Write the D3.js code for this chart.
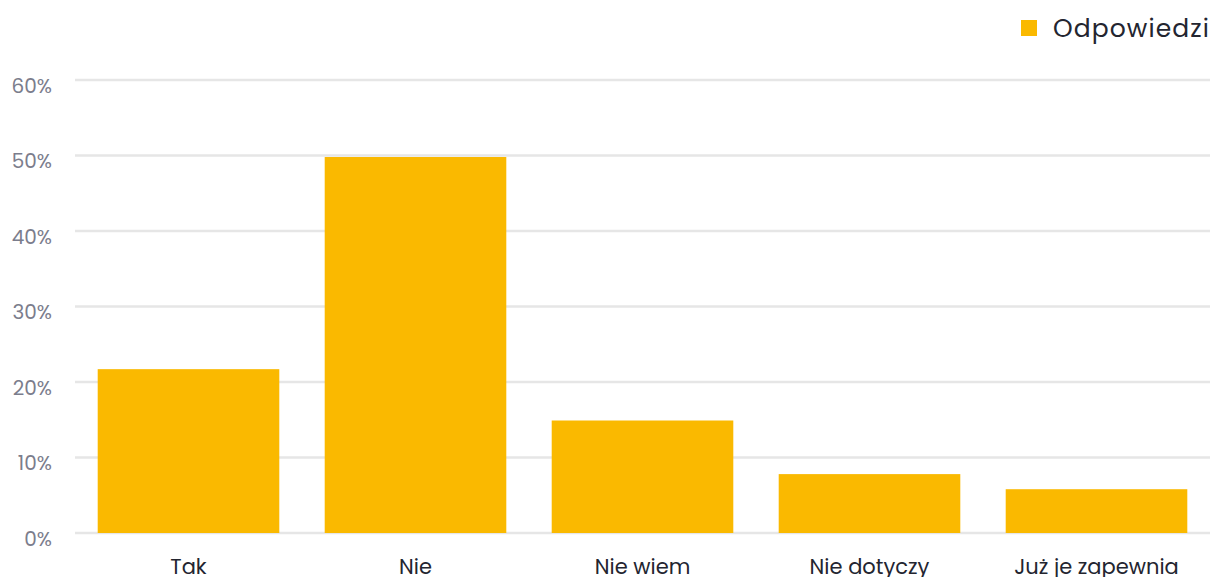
<!DOCTYPE html>
<html>
<head>
<meta charset="utf-8">
<script src="https://cdn.jsdelivr.net/npm/d3@7"></script>
<style>
  body { margin: 0; background: #fff; }
  svg { display: block; }
  svg text { font-family: Poppins, Inter, "Open Sans", sans-serif; }
</style>
</head>
<body>
<div id="chart"></div>
<script>
var categories = ["Tak", "Nie", "Nie wiem", "Nie dotyczy", "Już je zapewnia"];
var values = [21.7, 49.8, 14.9, 7.8, 5.8];
var yTicks = [0, 10, 20, 30, 40, 50, 60];
var seriesName = "Odpowiedzi";

var width = 1213, height = 577;
var margin = { top: 80, right: 3, bottom: 44, left: 75 };

var svg = d3
  .select("#chart")
  .append("svg")
  .attr("width", width)
  .attr("height", height);

var x = d3
  .scaleBand()
  .domain(categories)
  .range([margin.left, width - margin.right])
  .paddingInner(0.2)
  .paddingOuter(0.1);

var y = d3
  .scaleLinear()
  .domain([0, 60])
  .range([height - margin.bottom, margin.top]);

// gridlines
svg
  .append("g")
  .selectAll("line")
  .data(yTicks)
  .enter()
  .append("line")
  .attr("x1", margin.left)
  .attr("x2", width - margin.right)
  .attr("y1", (d) => y(d))
  .attr("y2", (d) => y(d))
  .attr("stroke", "#e6e6e6")
  .attr("stroke-width", 2.5);

// y axis labels
var yAxis = svg
  .append("g")
  .attr("transform", "translate(" + (margin.left - 23) + ",0)")
  .call(d3.axisLeft(y).tickValues(yTicks).tickSize(0).tickFormat((d) => d + "%"));
yAxis.select(".domain").remove();
yAxis.attr("font-family", null);
yAxis
  .selectAll("text")
  .attr("fill", "#7b7d8c")
  .style("font-size", "20px")
  .attr("y", 12)
  .attr("dy", null)
  .attr("x", 0);

// bars
svg
  .append("g")
  .selectAll("rect")
  .data(values)
  .enter()
  .append("rect")
  .attr("x", (d, i) => x(categories[i]))
  .attr("width", x.bandwidth())
  .attr("y", (d) => y(d))
  .attr("height", (d) => y(0) - y(d))
  .attr("fill", "#fab900");

// x axis labels
var xAxis = svg
  .append("g")
  .attr("transform", "translate(0," + (height - margin.bottom) + ")")
  .call(d3.axisBottom(x).tickSize(0));
xAxis.select(".domain").remove();
xAxis.attr("font-family", null);
xAxis
  .selectAll("text")
  .attr("fill", "#232530")
  .style("font-size", "21px")
  .attr("y", 41)
  .attr("dy", null);

// legend
var legend = svg.append("g").attr("transform", "translate(1021,20)");
legend
  .append("rect")
  .attr("width", 16)
  .attr("height", 16)
  .attr("fill", "#fab900");
legend
  .append("text")
  .attr("x", 32)
  .attr("y", 17)
  .attr("fill", "#232530")
  .style("font-size", "25px")
  .style("letter-spacing", "1.1px")
  .text(seriesName);
</script>
</body>
</html>
